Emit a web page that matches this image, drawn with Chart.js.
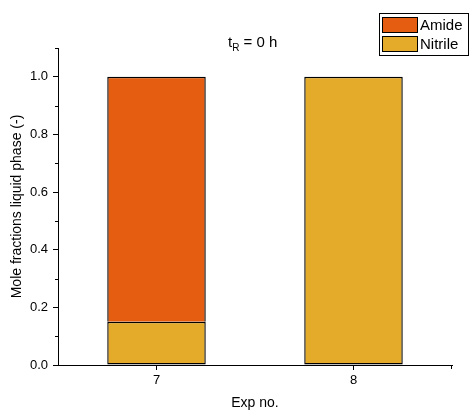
<!DOCTYPE html>
<html>
<head>
<meta charset="utf-8">
<script src="https://cdn.jsdelivr.net/npm/chart.js@4"></script>
<style>
  html, body { margin: 0; padding: 0; background: #fff; }
  #wrap { width: 470px; height: 412px; }
</style>
</head>
<body>
<div id="wrap"><canvas id="chart" width="470" height="412"></canvas></div>
<script>
// Experiments and mole fractions at t_R = 0 h
const experiments = ["7", "8"];
const nitrile = [0.15, 1.0];
const amide = [0.85, 0.0];
const yMajorTicks = [0, 0.2, 0.4, 0.6, 0.8, 1.0];
const yMinorTicks = [0.1, 0.3, 0.5, 0.7, 0.9, 1.1];

const FONT = "'Liberation Sans', Arial, sans-serif";

// minor y ticks, boxed legend and subscripted title
const extras = {
    id: "extras",
    afterDraw(chart) {
        const ctx = chart.ctx;
        const y = chart.scales.y;
        const area = chart.chartArea;
        ctx.save();
        ctx.strokeStyle = "#000";
        ctx.lineWidth = 1;
        yMinorTicks.forEach(function (v) {
            const py = Math.round(y.getPixelForValue(v)) + 0.5;
            ctx.beginPath();
            ctx.moveTo(area.left - 3, py);
            ctx.lineTo(area.left, py);
            ctx.stroke();
        });
        // end tick on the x axis
        const rx = Math.round(area.right) - 0.5;
        ctx.beginPath();
        ctx.moveTo(rx, area.bottom);
        ctx.lineTo(rx, area.bottom + 4);
        ctx.stroke();

        // title t_R = 0 h
        ctx.fillStyle = "#000";
        ctx.textBaseline = "alphabetic";
        ctx.font = "15px " + FONT;
        let x = 228;
        ctx.fillText("t", x, 47);
        x += ctx.measureText("t").width;
        ctx.font = "10px " + FONT;
        ctx.fillText("R", x, 51);
        x += ctx.measureText("R").width;
        ctx.font = "15px " + FONT;
        ctx.fillText(" = 0 h", x, 47);

        // legend, Amide first
        const items = [chart.data.datasets[1], chart.data.datasets[0]];
        ctx.fillStyle = "#fff";
        ctx.fillRect(379.5, 13.5, 89, 42);
        ctx.strokeRect(379.5, 13.5, 89, 42);
        items.forEach(function (ds, i) {
            const top = 17.5 + i * 19;
            ctx.fillStyle = ds.backgroundColor;
            ctx.fillRect(382.5, top, 35, 15);
            ctx.strokeStyle = "#000";
            ctx.strokeRect(382.5, top, 35, 15);
            ctx.fillStyle = "#000";
            ctx.font = "15px " + FONT;
            ctx.textBaseline = "middle";
            ctx.fillText(ds.label, 420, top + 8);
        });
        ctx.restore();
    }
};

new Chart(document.getElementById("chart"), {
    type: "bar",
    data: {
        labels: experiments,
        datasets: [
            {
                label: "Nitrile",
                data: nitrile,
                backgroundColor: "#E4AA29",
                borderColor: "#000",
                borderWidth: 1.4,
                borderSkipped: false
            },
            {
                label: "Amide",
                data: amide,
                backgroundColor: "#E55D10",
                borderColor: "#000",
                borderWidth: 1.4,
                borderSkipped: "bottom"
            }
        ]
    },
    options: {
        responsive: false,
        animation: false,
        layout: { padding: { top: 48, right: 18, left: 0, bottom: 0 } },
        datasets: { bar: { barPercentage: 0.5, categoryPercentage: 1.0 } },
        plugins: {
            legend: { display: false },
            tooltip: { enabled: false }
        },
        scales: {
            x: {
                stacked: true,
                offset: true,
                grid: { display: true, drawOnChartArea: false, tickLength: 5, color: "#000", offset: false },
                border: { display: true, color: "#000", width: 1 },
                ticks: { color: "#000", font: { family: FONT, size: 13 }, padding: 3 },
                title: { display: true, text: "Exp no.", color: "#000", font: { family: FONT, size: 14 }, padding: { top: 6, bottom: 0 } },
                afterFit: function (scale) { scale.height = 47; }
            },
            y: {
                stacked: true,
                min: 0,
                max: 1.1,
                afterBuildTicks: function (scale) {
                    scale.ticks = yMajorTicks.map(function (v) { return { value: v }; });
                },
                grid: { display: true, drawOnChartArea: false, tickLength: 5, color: "#000" },
                border: { display: true, color: "#000", width: 1 },
                ticks: {
                    color: "#000",
                    font: { family: FONT, size: 13 },
                    padding: 5,
                    callback: function (v) { return Number(v).toFixed(1); }
                },
                title: { display: true, text: "Mole fractions liquid phase (-)", color: "#000", font: { family: FONT, size: 14 }, padding: { top: 9, bottom: 0 } },
                afterFit: function (scale) { scale.width = 58; }
            }
        }
    },
    plugins: [extras]
});
</script>
</body>
</html>
